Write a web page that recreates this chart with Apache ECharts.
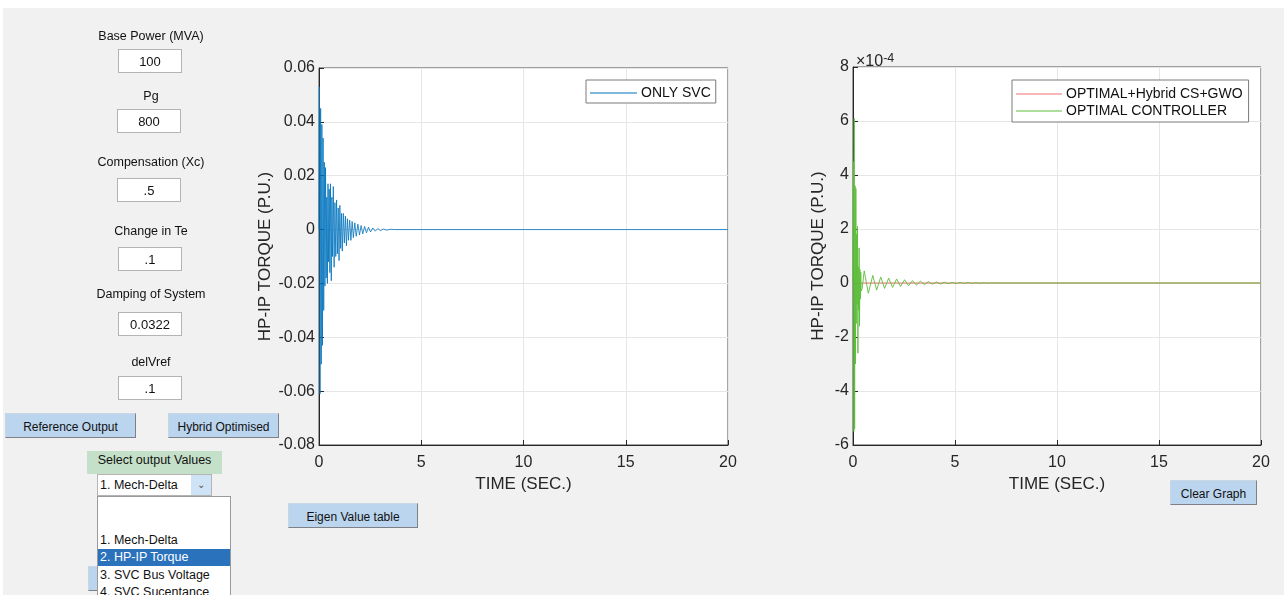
<!DOCTYPE html>
<html>
<head>
<meta charset="utf-8">
<script src="https://cdn.jsdelivr.net/npm/echarts@6/dist/echarts.min.js"></script>
<style>
  body { margin: 0; background: #fff; font-family: "Liberation Sans", Arial, sans-serif; }
  #panel { position: absolute; left: 3px; top: 8px; width: 1281px; height: 587px; background: #f0f1f0; overflow: hidden; z-index: -1; }
  #chart { position: absolute; left: 0; top: 0; width: 1287px; height: 595px; }
  .lbl { position: absolute; width: 200px; text-align: center; font-size: 12.5px; color: #111; z-index: 2; }
  .edit { position: absolute; width: 64px; height: 24px; background: #fff; border: 1px solid #b4b4b4; text-align: center; line-height: 24px; font-size: 13px; color: #111; z-index: 2; box-sizing: border-box; }
  .btn { position: absolute; height: 25px; background: #bcd5ee; border: 1px solid #c9d7e5; border-right-color: #7d8187; border-bottom-color: #7d8187; box-sizing: border-box; text-align: center; line-height: 26px; font-size: 12px; color: #111; z-index: 2; }
  .list { position: absolute; left: 97px; top: 496px; width: 134px; height: 110px; background: #fff; border: 1px solid #9a9a9a; box-sizing: border-box; z-index: 3; font-size: 12.5px; color: #111; }
  .item { position: absolute; left: 0; width: 132px; height: 17px; line-height: 17px; padding-left: 2px; box-sizing: border-box; }
</style>
</head>
<body>
<div id="panel"></div>
<div id="chart"></div>

<div class="lbl" style="left:51px;top:29px;">Base Power (MVA)</div>
<div class="edit" style="left:118px;top:49px;">100</div>
<div class="lbl" style="left:51px;top:89px;">Pg</div>
<div class="edit" style="left:117px;top:109px;">800</div>
<div class="lbl" style="left:51px;top:155px;">Compensation (Xc)</div>
<div class="edit" style="left:117px;top:178px;">.5</div>
<div class="lbl" style="left:51px;top:224px;">Change in Te</div>
<div class="edit" style="left:118px;top:247px;">.1</div>
<div class="lbl" style="left:51px;top:287px;">Damping of System</div>
<div class="edit" style="left:118px;top:312px;">0.0322</div>
<div class="lbl" style="left:51px;top:355px;">delVref</div>
<div class="edit" style="left:118px;top:376px;">.1</div>

<div class="btn" style="left:5px;top:413px;width:131px;">Reference Output</div>
<div class="btn" style="left:168px;top:413px;width:111px;">Hybrid Optimised</div>
<div class="btn" style="left:288px;top:503px;width:130px;">Eigen Value table</div>
<div class="btn" style="left:1170px;top:480px;width:87px;">Clear Graph</div>
<div class="btn" style="left:88px;top:566px;width:30px;"></div>

<div style="position:absolute;left:87px;top:451px;width:135px;height:23px;background:#c5e0c9;text-align:center;line-height:19px;font-size:12.5px;color:#111;z-index:2;">Select output Values</div>
<div style="position:absolute;left:97px;top:474px;width:115px;height:22px;background:#fff;border:1px solid #b4b4b4;box-sizing:border-box;font-size:12.5px;line-height:20px;padding-left:2px;color:#111;z-index:2;">1. Mech-Delta
  <div style="position:absolute;right:0;top:0;width:20px;height:20px;background:#cfe3f6;text-align:center;color:#555;font-size:10px;line-height:20px;">&#8964;</div>
</div>
<div class="list">
  <div class="item" style="top:35px;">1. Mech-Delta</div>
  <div class="item" style="top:52px;background:#2a72bc;color:#fff;">2. HP-IP Torque</div>
  <div class="item" style="top:70px;">3. SVC Bus Voltage</div>
  <div class="item" style="top:87px;">4. SVC Sucentance</div>
</div>

<script>
// left plot: ONLY SVC, HP-IP torque (p.u.)
const svcTime = [0, 0.02, 0.05, 0.08, 0.11, 0.14, 0.17, 0.2, 0.23, 0.26, 0.29, 0.32, 0.35, 0.38, 0.41, 0.44,
  0.47, 0.5, 0.53, 0.56, 0.6, 0.63, 0.66, 0.7, 0.74, 0.78, 0.82, 0.86, 0.9, 0.94, 0.98, 1.02, 1.06, 1.1,
  1.14, 1.19, 1.24, 1.29, 1.34, 1.39, 1.44, 1.5, 1.56, 1.62, 1.68, 1.75, 1.82, 1.9, 1.98, 2.06, 2.14,
  2.23, 2.32, 2.42, 2.52, 2.63, 2.75, 2.88, 3.0, 3.15, 3.3, 3.5, 3.7, 20];
const svcTorque = [0, 0.053, -0.061, 0.045, -0.05, 0.039, -0.043, 0.034, -0.03, 0.025, -0.021, 0.023, -0.018,
  0.012, -0.02, 0.017, -0.012, 0.015, -0.016, 0.017, -0.019, 0.012, -0.01, 0.016, -0.014, 0.01, -0.01, 0.011,
  -0.009, 0.008, -0.0115, 0.009, -0.007, 0.006, -0.008, 0.006, -0.005, 0.005, -0.006, 0.004, -0.004, 0.0035,
  -0.004, 0.003, -0.003, 0.0025, -0.0025, 0.002, -0.002, 0.0015, -0.0016, 0.0012, -0.0012, 0.0009, -0.0009,
  0.0006, -0.0006, 0.0004, -0.0004, 0.0002, -0.0002, 0.0001, 0, 0];

// right plot, values in units of 1e-4 p.u.
const optTime = [0, 0.02, 0.04, 0.06, 0.08, 0.1, 0.12, 0.14, 0.16, 0.18, 0.2, 0.22, 0.24, 0.26, 0.28, 0.3,
  0.32, 0.34, 0.36, 0.38, 0.4, 0.45, 0.55, 0.75, 0.97, 1.16, 1.36, 1.55, 1.75, 1.94, 2.14, 2.33, 2.53, 2.72,
  2.92, 3.11, 3.31, 3.5, 3.7, 3.89, 4.09, 4.28, 4.48, 4.67, 4.87, 5.06, 5.26, 5.45, 5.65, 5.84, 6.04, 6.23,
  6.43, 6.62, 6.82, 7.2, 20];
const optTorque = [0, 4.5, -5.5, 6.1, -5.4, 3.6, -3.0, 3.5, -1.5, 1.8, -0.8, 2.1, -2.6, 0.6, -1.0, 1.3,
  -1.6, 0.5, -0.6, 0.4, -0.3, -0.2, 0.45, -0.38, 0.28, -0.26, 0.22, -0.2, 0.18, -0.16, 0.15, -0.13, 0.12, -0.1,
  0.09, -0.08, 0.07, -0.06, 0.05, -0.045, 0.04, -0.035, 0.03, -0.025, 0.02, -0.02, 0.02, -0.015, 0.015, -0.012,
  0.01, -0.01, 0.008, -0.006, 0.005, 0, 0];
const hybridTime = [0, 0.05, 0.1, 0.2, 0.3, 0.5, 20];
const hybridTorque = [0, 0.05, -0.05, 0.02, -0.02, 0, 0];

const xTicks = { min: 0, max: 20, interval: 5 };
const leftTicks = { min: -0.08, max: 0.06, interval: 0.02 };
const rightTicks = { min: -6, max: 8, interval: 2 };

const pairs = (xs, ys) => xs.map((x, i) => [x, ys[i]]);
const axisColor = "#262626";
const font = "Liberation Sans";

const xAxisBase = (gi) => ({
  type: "value", gridIndex: gi, ...xTicks,
  name: "TIME (SEC.)", nameLocation: "middle", nameGap: 31,
  nameTextStyle: { fontSize: 17, color: axisColor, fontFamily: font },
  axisLine: { onZero: false, lineStyle: { color: axisColor, width: 1 } },
  axisTick: { inside: true, length: 5, lineStyle: { color: axisColor } },
  axisLabel: { fontSize: 16, color: axisColor, fontFamily: font, margin: 10 },
  splitLine: { show: true, lineStyle: { color: "#e6e6e6" } },
});
const yAxisBase = (gi, t, gap, fmt) => ({
  type: "value", gridIndex: gi, ...t,
  name: "HP-IP TORQUE (P.U.)", nameLocation: "middle", nameGap: gap,
  nameTextStyle: { fontSize: 17, color: axisColor, fontFamily: font },
  axisLine: { show: true, onZero: false, lineStyle: { color: axisColor, width: 1 } },
  axisTick: { show: true, inside: true, length: 5, lineStyle: { color: axisColor } },
  axisLabel: { fontSize: 16, color: axisColor, fontFamily: font, margin: 4, formatter: fmt },
  splitLine: { show: true, lineStyle: { color: "#e6e6e6" } },
});

const chart = echarts.init(document.getElementById("chart"));
chart.setOption({
  animation: false,
  grid: [
    { left: 319, top: 68, width: 409, height: 377, show: true, backgroundColor: "#fff", borderColor: "#4a4a4a", borderWidth: 1 },
    { left: 853, top: 67, width: 408, height: 378, show: true, backgroundColor: "#fff", borderColor: "#4a4a4a", borderWidth: 1 },
  ],
  xAxis: [xAxisBase(0), xAxisBase(1)],
  yAxis: [
    yAxisBase(0, leftTicks, 45, (v) => { const r = Math.round(v * 100) / 100; return r === 0 ? "0" : String(r); }),
    yAxisBase(1, rightTicks, 26, (v) => String(v)),
  ],
  legend: [
    {
      data: ["ONLY SVC"], left: 586, top: 80, orient: "vertical",
      backgroundColor: "#fff", borderColor: "#7a7a7a", borderWidth: 1, borderRadius: 0,
      padding: [6, 5, 3, 4], itemWidth: 47, itemHeight: 1, itemGap: 4, icon: "rect",
      textStyle: { fontSize: 14, color: "#111", fontFamily: font, padding: [0, 0, 0, -1] },
    },
    {
      data: ["OPTIMAL+Hybrid CS+GWO", "OPTIMAL CONTROLLER"], left: 1012, top: 80, orient: "vertical",
      backgroundColor: "#fff", borderColor: "#7a7a7a", borderWidth: 1, borderRadius: 0,
      padding: [7, 6, 4, 4], itemWidth: 46, itemHeight: 1, itemGap: 3, icon: "rect",
      textStyle: { fontSize: 14, color: "#111", fontFamily: font, padding: [0, 0, 0, -1] },
    },
  ],
  graphic: [
    {
      type: "text", left: 856, top: 52,
      style: {
        text: "×10{s|-4}", fontSize: 16, fill: axisColor, fontFamily: font,
        rich: { s: { fontSize: 12.5, fill: axisColor, fontFamily: font, verticalAlign: "top", padding: [0, 0, 7, 0] } },
      },
    },
  ],
  series: [
    {
      name: "ONLY SVC", type: "line", xAxisIndex: 0, yAxisIndex: 0, symbol: "none",
      lineStyle: { color: "#0072BD", width: 0.8 }, itemStyle: { color: "#0072BD" },
      data: pairs(svcTime, svcTorque),
    },
    {
      name: "OPTIMAL+Hybrid CS+GWO", type: "line", xAxisIndex: 1, yAxisIndex: 1, symbol: "none",
      lineStyle: { color: "#f07070", width: 1 }, itemStyle: { color: "#f07070" },
      data: pairs(hybridTime, hybridTorque),
    },
    {
      name: "OPTIMAL CONTROLLER", type: "line", xAxisIndex: 1, yAxisIndex: 1, symbol: "none",
      lineStyle: { color: "#5cbd3a", width: 0.9 }, itemStyle: { color: "#5cbd3a" },
      data: pairs(optTime, optTorque),
    },
  ],
});
</script>
</body>
</html>
